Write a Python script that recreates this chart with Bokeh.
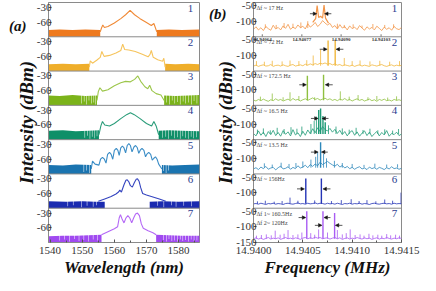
import numpy as np
from bokeh.plotting import figure
from bokeh.layouts import row
from bokeh.models import Range1d, FixedTicker, Span, Arrow, NormalHead, ColumnDataSource, Div, PrintfTickFormatter
from bokeh.core.properties import value
from bokeh.embed import file_html
from bokeh.resources import INLINE

SERIF = "Liberation Serif"

# ---------------- (a) optical spectra ----------------
WL_LO, WL_HI = 1539.5, 1586.5
DBA_LO, DBA_HI = -90, -20
WL_TICKS = [1540, 1550, 1560, 1570, 1580]
A_TICK_VALS = [-30, -60]

FLOOR_L_X = [[1539.5, 1543, 1547, 1551, 1555.6], [1539.5, 1544, 1548, 1552.2], [1539.5, 1543, 1547, 1551, 1554.6],
             [1539.5, 1544, 1548, 1552, 1555.2], [1539.5, 1544, 1548, 1552.8], [1539.5, 1545, 1550, 1554, 1557],
             [1539.5, 1544, 1548, 1552, 1556]]
FLOOR_L_Y = [[-76, -75, -76, -75, -76], [-76, -75, -76, -75], [-70, -71, -69, -71, -70],
             [-72, -71, -73, -72, -71], [-72, -73, -71, -72], [-76, -77, -76, -77, -77],
             [-77, -76, -76, -75, -74]]
FLOOR_R_X = [[1573.2, 1577, 1581, 1586.5], [1575.8, 1579, 1583, 1586.5], [1575.5, 1579, 1583, 1586.5],
             [1573.8, 1577, 1581, 1586.5], [1574.8, 1578, 1582, 1586.5], [1571, 1575, 1580, 1586.5],
             [1573, 1577, 1581, 1586.5]]
FLOOR_R_Y = [[-76, -75, -76, -75], [-75, -76, -75, -76], [-70, -71, -70, -69],
             [-72, -71, -72, -73], [-72, -73, -72, -71], [-77, -76, -77, -76],
             [-74, -75, -76, -76]]
CURVE_X = [
    [1555.6, 1556.0, 1556.4, 1556.9, 1558.0, 1560.0, 1562.0, 1563.5, 1564.9, 1566.3, 1568.0, 1570.0, 1571.5, 1572.3, 1572.8, 1573.2],
    [1552.2, 1552.5, 1553.2, 1554.5, 1555.6, 1556.1, 1556.8, 1558.5, 1560.5, 1562.0, 1562.6, 1563.2, 1564.5, 1566.5, 1568.5, 1570.5, 1571.1, 1571.5, 1572.1, 1573.5, 1575.0, 1575.4, 1575.8],
    [1554.6, 1555.0, 1555.5, 1556.3, 1558.0, 1560.0, 1562.0, 1563.5, 1565.0, 1566.3, 1567.3, 1568.2, 1569.5, 1570.4, 1571.0, 1571.7, 1573.0, 1574.5, 1575.5],
    [1555.2, 1555.8, 1556.3, 1557.0, 1558.5, 1560.0, 1562.0, 1563.8, 1565.0, 1566.2, 1568.0, 1570.0, 1571.6, 1572.3, 1573.0, 1573.8],
    [1552.8, 1553.2, 1554.0, 1555.2, 1555.7, 1556.3, 1556.9, 1557.4, 1557.9, 1558.5, 1559.0, 1559.5, 1560.0, 1560.6, 1561.1, 1561.5,
     1562.0, 1562.5, 1563.0, 1563.5, 1564.0, 1564.5, 1565.0, 1565.5, 1566.1, 1566.6, 1567.1, 1567.6, 1568.1, 1568.6, 1569.2, 1569.7,
     1570.2, 1570.7, 1571.3, 1571.8, 1572.3, 1572.8, 1573.3, 1573.8, 1574.8],
    [1555.0, 1557.0, 1559.0, 1560.5, 1561.3, 1561.7, 1562.2, 1563.0, 1563.6, 1564.0, 1564.5, 1565.0, 1565.6, 1566.2, 1566.8, 1567.2, 1567.7, 1568.2, 1568.8, 1570.0, 1572.0, 1574.0, 1576.0],
    [1556.0, 1558.0, 1560.0, 1561.0, 1561.5, 1561.9, 1562.4, 1563.0, 1563.6, 1564.2, 1564.8, 1565.4, 1566.0, 1566.6, 1567.2, 1567.8, 1568.4, 1569.0, 1570.5, 1572.0, 1573.0],
]
CURVE_Y = [
    [-80, -72, -66, -71, -69, -62, -53, -45, -36, -45, -53, -61, -67, -63, -72, -80],
    [-82, -69, -74, -68, -62, -50, -60, -58, -53, -48, -35, -46, -47, -50, -55, -61, -56, -48, -62, -67, -70, -64, -82],
    [-80, -62, -54, -61, -58, -50, -44, -41, -42, -37, -30, -41, -52, -56, -49, -60, -66, -69, -80],
    [-80, -62, -53, -60, -62, -57, -47, -39, -35, -39, -47, -57, -62, -53, -62, -80],
    [-80, -64, -70, -72, -60, -56, -60, -68, -50, -46, -50, -60, -42, -38, -42, -52,
     -37, -33, -37, -47, -32, -28, -32, -45, -35, -32, -36, -48, -41, -38, -42, -55,
     -49, -46, -50, -62, -58, -55, -60, -70, -80],
    [-76, -71, -66, -61, -57, -53, -57, -42, -33, -32, -36, -44, -47, -38, -31, -30, -35, -48, -60, -63, -67, -71, -76],
    [-74, -68, -62, -58, -40, -33, -42, -50, -40, -35, -40, -50, -40, -32, -30, -35, -52, -61, -66, -70, -74],
]
DROP_X = [[], [],
          [1549.8, 1550.6, 1551.3, 1552.1, 1552.9, 1553.6, 1554.2, 1576.3, 1577.1, 1578.0, 1578.8, 1579.7, 1580.5, 1581.4, 1582.2, 1583.1, 1584.0, 1584.8, 1585.7],
          [1550.8, 1551.6, 1552.4, 1553.1, 1553.9, 1554.6, 1575.0, 1576.0, 1576.9, 1577.8, 1578.7, 1579.6, 1580.5, 1581.3, 1582.2, 1583.0, 1583.9, 1584.7, 1585.6],
          [1550.5, 1551.4, 1552.2, 1553.6, 1554.3, 1555.0, 1575.3, 1576.1, 1576.9],
          [1545.5, 1547.2, 1549.8, 1551.5, 1553.4, 1554.5, 1573.5, 1575.4, 1577.8, 1579.2, 1581.6, 1584.0],
          [1543.0, 1544.5, 1546.0, 1547.6, 1549.0, 1550.5, 1552.0, 1553.4, 1554.8, 1575.3, 1576.2, 1577.0, 1577.9, 1578.7, 1579.6, 1580.5, 1581.3, 1582.2, 1583.1, 1583.9, 1584.8, 1585.7]]
DROP_Y = [[], [],
          [-86, -82, -88, -80, -86, -84, -88, -84, -88, -80, -86, -83, -88, -82, -86, -84, -88, -81, -86],
          [-86, -82, -88, -84, -87, -83, -86, -84, -88, -82, -87, -85, -88, -83, -86, -88, -84, -87, -85],
          [-86, -83, -88, -85, -88, -84, -84, -88, -83],
          [-86, -84, -88, -85, -87, -84, -85, -88, -84, -87, -85, -86],
          [-86, -84, -88, -83, -87, -85, -88, -84, -86, -85, -88, -83, -87, -86, -88, -84, -87, -85, -88, -84, -87, -86]]

A_BAND = ["#ee7a1f", "#efae2a", "#7bb31a", "#0f8f68", "#1a74b0", "#1b2bb0", "#a04af0"]
A_LINE = ["#f08a36", "#f6c45c", "#9cc64a", "#2b9d7a", "#3b8dc6", "#3444bf", "#b468f6"]

# ---------------- (b) RF spectra ----------------
F_LO, F_HI = 14.9400, 14.9415
DBB_LO, DBB_HI = -150, -40
F_TICKS = [14.9400, 14.9405, 14.9410, 14.9415]

NOISE = [
    [-126, -118, -128, -121, -130, -117, -124, -129, -113, -125, -120, -128, -115, -123, -110, -126, -119, -124, -112, -121,
     -116, -125, -108, -119, -113, -104, -117, -110, -98, -106, -112, -107, -120, -114, -125, -111, -122, -117, -128, -115,
     -124, -119, -127, -114, -122, -129, -118, -125, -120, -128, -116, -123, -130, -119, -126, -121, -129, -117, -124, -127, -120],
    [-134, -131, -135, -132, -130, -134, -133, -129, -135, -132, -131, -134, -130, -133, -135, -131, -129, -134, -132, -130,
     -133, -128, -131, -127, -130, -126, -129, -125, -127, -124, -128, -126, -130, -127, -131, -129, -133, -130, -132, -134,
     -131, -135, -132, -130, -134, -131, -133, -135, -130, -132, -134, -131, -129, -133, -135, -132, -130, -134, -131, -133, -132],
    [-133, -136, -131, -135, -130, -134, -137, -132, -135, -129, -134, -131, -136, -133, -130, -135, -128, -133, -131, -136,
     -132, -129, -134, -130, -126, -131, -128, -133, -130, -127, -132, -129, -134, -131, -135, -130, -133, -128, -134, -131,
     -136, -132, -129, -134, -131, -136, -133, -130, -135, -132, -137, -131, -134, -130, -135, -133, -136, -131, -134, -132, -135],
    [-130, -138, -122, -136, -126, -140, -124, -134, -120, -137, -127, -139, -121, -133, -125, -138, -118, -135, -128, -140,
     -123, -136, -119, -131, -115, -128, -112, -124, -108, -118, -122, -114, -126, -117, -130, -120, -134, -124, -138, -127,
     -121, -136, -125, -139, -129, -122, -137, -126, -140, -131, -124, -138, -127, -135, -121, -139, -130, -134, -126, -137, -132],
    [-134, -130, -136, -128, -133, -126, -135, -131, -129, -137, -130, -125, -134, -132, -127, -135, -129, -133, -124, -131,
     -128, -122, -130, -120, -126, -118, -124, -112, -120, -115, -110, -116, -121, -125, -119, -128, -123, -131, -126, -133,
     -129, -135, -130, -127, -134, -131, -136, -128, -133, -130, -135, -129, -132, -136, -130, -134, -127, -133, -131, -135, -132],
    [-136, -135, -137, -134, -136, -138, -135, -136, -134, -137, -135, -136, -138, -135, -134, -136, -137, -135, -133, -136,
     -135, -137, -134, -136, -135, -133, -136, -134, -135, -137, -134, -136, -135, -137, -134, -136, -138, -135, -136, -134,
     -137, -135, -136, -134, -137, -135, -136, -138, -135, -134, -136, -137, -135, -134, -136, -135, -137, -134, -136, -135, -136],
    [-138, -135, -139, -136, -140, -137, -134, -139, -136, -138, -135, -140, -137, -134, -138, -136, -139, -135, -137, -140,
     -136, -134, -138, -135, -137, -133, -136, -134, -138, -136, -135, -139, -136, -134, -138, -135, -140, -137, -135, -139,
     -136, -138, -134, -137, -139, -135, -138, -136, -140, -137, -135, -139, -136, -138, -134, -137, -139, -136, -138, -135, -137],
]
SPIKE_BASE = [-122, -133, -134, -132, -130, -136, -138]
SPIKE_X = [
    [14.94012, 14.94023, 14.94031, 14.94040, 14.94048, 14.94055, 14.94085, 14.94092, 14.94101, 14.94110, 14.94121, 14.94133, 14.94142],
    [14.94003, 14.94011, 14.94019, 14.94029, 14.94037, 14.94046, 14.94054, 14.940605, 14.94068, 14.94092, 14.94100, 14.94108, 14.94118, 14.94128, 14.94138, 14.94148],
    [14.94007, 14.94019, 14.94030, 14.94037, 14.94046, 14.94062, 14.94088, 14.94097, 14.94106, 14.94116, 14.94125, 14.94136, 14.94145],
    [14.94004, 14.94010, 14.94017, 14.94024, 14.94031, 14.94038, 14.94044, 14.94049, 14.940582, 14.940615, 14.940638, 14.94076, 14.940836,
     14.94090, 14.94097, 14.94104, 14.94111, 14.94118, 14.94126, 14.94133, 14.94141, 14.94147],
    [14.94011, 14.94019, 14.94028, 14.94036, 14.94043, 14.94050, 14.940582, 14.94063, 14.94065, 14.94071, 14.94074, 14.94082, 14.94090,
     14.94100, 14.94112, 14.94123, 14.94135, 14.94146],
    [14.94004, 14.94012, 14.94021, 14.94029, 14.94037, 14.94045, 14.94062, 14.94079, 14.94089, 14.94099, 14.94107, 14.94115, 14.94124,
     14.94133, 14.94141, 14.941495],
    [14.94003, 14.94008, 14.94013, 14.94018, 14.94022, 14.94027, 14.94031, 14.94035, 14.94040, 14.94045, 14.94049, 14.94058, 14.94062,
     14.94066, 14.94075, 14.94085, 14.94090, 14.94094, 14.94098, 14.94103, 14.94108, 14.94112, 14.94117, 14.94121, 14.94126, 14.94130,
     14.94135, 14.94139, 14.94144, 14.94148],
]
SPIKE_TOP = [
    [-110, -112, -106, -108, -104, -100, -108, -112, -110, -114, -109, -112, -110],
    [-118, -120, -117, -119, -116, -118, -115, -100, -82, -108, -118, -116, -119, -117, -120, -118],
    [-122, -112, -124, -108, -120, -124, -105, -122, -117, -124, -120, -125, -121],
    [-118, -114, -120, -112, -116, -110, -115, -108, -100, -90, -76, -104, -108, -114, -118, -112, -119, -115, -120, -117, -121, -116],
    [-116, -120, -114, -118, -115, -110, -104, -95, -80, -86, -100, -108, -115, -118, -121, -117, -120, -119],
    [-128, -126, -129, -127, -116, -126, -125, -127, -124, -121, -127, -124, -128, -122, -126, -100],
    [-128, -126, -124, -127, -112, -125, -122, -110, -126, -124, -118, -120, -125, -108, -118, -110, -124, -120, -108, -126,
     -124, -128, -122, -127, -125, -128, -123, -127, -125, -128],
]
PEAK_X = [[14.94060, 14.94063, 14.940645, 14.94066, 14.94068, 14.94070, 14.940715, 14.94073, 14.94076],
          [14.940756, 14.940828], [14.940546, 14.94071], [14.940661, 14.94068, 14.940704, 14.940727],
          [14.94068], [14.94053, 14.940688], [14.94054, 14.940704, 14.940822]]
PEAK_TOP = [[-104, -92, -50, -88, -84, -90, -48, -90, -106],
            [-52, -50], [-55, -52], [-55, -50, -74, -94], [-48], [-55, -55], [-50, -50, -55]]
ARR_START = [[14.940572, 14.940789], [14.940671, 14.940911], [14.940464, 14.940803], [14.940582, 14.94076],
             [14.940582, 14.940753], [14.940441, 14.94078], [14.940457, 14.94078, 14.940622, 14.940901]]
ARR_END = [[14.940641, 14.94072], [14.940747, 14.940836], [14.940536, 14.940727], [14.940655, 14.940694],
           [14.940655, 14.940688], [14.940516, 14.940704], [14.94053, 14.940714, 14.940694, 14.940829]]
ARR_DB = [[-76, -76], [-80, -80], [-84, -84], [-82, -82], [-80, -80], [-88, -88], [-70, -70, -95, -95]]
DF_TEXT = [["Δf ~ 17 Hz"], ["Δf ~ 72 Hz"], ["Δf ~ 172.5 Hz"], ["Δf ~ 16.5 Hz"], ["Δf ~ 13.5 Hz"], ["Δf ~ 156Hz"],
           ["Δf 1~ 160.5Hz", "Δf 2~ 120Hz"]]
DF_DB = [[-57], [-57], [-57], [-57], [-57], [-57], [-60, -86]]
ZOOM_TICK_X = [14.940089, 14.940490, 14.940888, 14.941293]
ZOOM_TICK_LABELS = ["14.94064", "14.94077", "14.94090", "14.94103"]
B_LINE = ["#f39548", "#f1b83e", "#8fc040", "#1e9a76", "#2c87ba", "#2434b6", "#a95cf3"]

PANEL_NUM = ["1", "2", "3", "4", "5", "6", "7"]
NUM_COLOR = "#2b3d8f"
NP = 7
FIG_H = 283


def setup(p, span, ticks, labels, xlabel):
    p.xgrid.visible = False
    p.ygrid.visible = False
    p.outline_line_color = "#8a8a8a"
    p.background_fill_color = "white"
    p.border_fill_color = "white"
    for ax in (p.xaxis[0], p.yaxis[0]):
        ax.axis_line_color = "#8a8a8a"
        ax.major_tick_line_color = "#555555"
        ax.minor_tick_line_color = "#555555"
        ax.major_tick_in = 3
        ax.major_tick_out = 0
        ax.minor_tick_in = 2
        ax.minor_tick_out = 0
        ax.major_label_text_font = SERIF
        ax.major_label_text_font_size = "11px"
        ax.major_label_text_color = "#333333"
        ax.axis_label_text_font = SERIF
        ax.axis_label_text_font_style = "bold italic"
        ax.axis_label_text_color = "#111111"
    p.yaxis[0].ticker = FixedTicker(ticks=ticks)
    p.yaxis[0].major_label_overrides = labels
    p.yaxis[0].major_label_standoff = -3
    p.yaxis[0].axis_label = "Intensity (dBm)"
    p.yaxis[0].axis_label_text_font_size = "19px"
    p.yaxis[0].axis_label_standoff = -3
    p.xaxis[0].major_label_standoff = 4
    p.xaxis[0].axis_label = xlabel
    p.xaxis[0].axis_label_text_font_size = "17px"
    p.xaxis[0].axis_label_standoff = 1
    for j in range(1, NP):
        p.add_layout(Span(location=j * span, dimension="width", line_color="#8a8a8a", line_width=1))


# ---------- figure (a) ----------
span_a = DBA_HI - DBA_LO
ranges_a = {}
for k in range(NP):
    st = DBA_LO - (NP - 1 - k) * span_a
    ranges_a[f"a{k}"] = Range1d(st, st + NP * span_a)
ticks_a, labels_a = [], {}
for k in range(NP):
    for v in A_TICK_VALS:
        t = (NP - 1 - k) * span_a + (v - DBA_LO)
        ticks_a.append(t)
        labels_a[t] = str(v)

pa = figure(width=190, height=FIG_H, x_range=Range1d(WL_LO, WL_HI), y_range=Range1d(0, NP * span_a),
            output_backend="svg", toolbar_location=None, margin=(0, 0, 0, 12),
            min_border_left=34, min_border_right=3, min_border_top=2, min_border_bottom=41)
pa.extra_y_ranges = ranges_a
setup(pa, span_a, ticks_a, labels_a, "Wavelength (nm)")
pa.xaxis[0].ticker = FixedTicker(ticks=WL_TICKS, minor_ticks=[1545, 1555, 1565, 1575, 1585])

for k in range(NP):
    rn = f"a{k}"
    pa.varea(x=FLOOR_L_X[k], y1=[DBA_LO] * len(FLOOR_L_X[k]), y2=FLOOR_L_Y[k], fill_color=A_BAND[k], y_range_name=rn)
    pa.varea(x=FLOOR_R_X[k], y1=[DBA_LO] * len(FLOOR_R_X[k]), y2=FLOOR_R_Y[k], fill_color=A_BAND[k], y_range_name=rn)
    if DROP_X[k]:
        pa.vbar(x=DROP_X[k], width=0.18, top=[-65] * len(DROP_X[k]), bottom=DROP_Y[k], fill_color="white",
                fill_alpha=0.85, line_color=None, y_range_name=rn)
    pa.line(CURVE_X[k], CURVE_Y[k], line_color=A_LINE[k], line_width=1.1, y_range_name=rn)
    pa.text(x=[WL_HI], y=[DBA_HI], text=[PANEL_NUM[k]], x_offset=-9, y_offset=2, text_align="center",
            text_baseline="top", text_font=value(SERIF), text_font_size="11px", text_color=NUM_COLOR, y_range_name=rn)

# ---------- figure (b) ----------
span_b = DBB_HI - DBB_LO
ranges_b = {}
for k in range(NP):
    st = DBB_LO - (NP - 1 - k) * span_b
    ranges_b[f"b{k}"] = Range1d(st, st + NP * span_b)
ticks_b, labels_b = [], {}
for k in range(NP):
    vals = [-50, -100] + ([-150] if k == NP - 1 else [])
    for v in vals:
        t = (NP - 1 - k) * span_b + (v - DBB_LO)
        ticks_b.append(t)
        labels_b[t] = str(v)

pb = figure(width=208, height=FIG_H, x_range=Range1d(F_LO, F_HI), y_range=Range1d(0, NP * span_b),
            output_backend="svg", toolbar_location=None, margin=(0, 0, 0, 10),
            min_border_left=37, min_border_right=19, min_border_top=2, min_border_bottom=41)
pb.extra_y_ranges = ranges_b
setup(pb, span_b, ticks_b, labels_b, "Frequency (MHz)")
pb.xaxis[0].ticker = FixedTicker(ticks=F_TICKS, minor_ticks=[14.94025, 14.94075, 14.94125])
pb.xaxis[0].formatter = PrintfTickFormatter(format="%.4f")

freq_grid = np.linspace(F_LO, F_HI, len(NOISE[0]))
for k in range(NP):
    rn = f"b{k}"
    pb.line(freq_grid, NOISE[k], line_color=B_LINE[k], line_width=0.8, y_range_name=rn)
    n = len(SPIKE_X[k])
    pb.segment(x0=SPIKE_X[k], y0=[SPIKE_BASE[k]] * n, x1=SPIKE_X[k], y1=SPIKE_TOP[k],
               line_color=B_LINE[k], line_width=0.8, y_range_name=rn)
    if k == 0:
        pb.line(PEAK_X[k], PEAK_TOP[k], line_color=B_LINE[k], line_width=1.2, y_range_name=rn)
    else:
        m = len(PEAK_X[k])
        pb.segment(x0=PEAK_X[k], y0=[SPIKE_BASE[k]] * m, x1=PEAK_X[k], y1=PEAK_TOP[k],
                   line_color=B_LINE[k], line_width=1.4, y_range_name=rn)
    src = ColumnDataSource(dict(x0=ARR_START[k], x1=ARR_END[k], y=ARR_DB[k]))
    pb.add_layout(Arrow(end=NormalHead(size=3.5, fill_color="#111111", line_color="#111111", line_width=0.5),
                        source=src, x_start="x0", y_start="y", x_end="x1", y_end="y",
                        line_color="#111111", line_width=0.7, y_range_name=rn))
    pb.text(x=[F_LO] * len(DF_TEXT[k]), y=DF_DB[k], text=DF_TEXT[k], x_offset=3, text_baseline="middle",
            text_font=value(SERIF), text_font_size="6px", text_color="#444444", y_range_name=rn)
    pb.text(x=[F_HI], y=[DBB_HI], text=[PANEL_NUM[k]], x_offset=-7, y_offset=2, text_align="center",
            text_baseline="top", text_font=value(SERIF), text_font_size="11px", text_color=NUM_COLOR, y_range_name=rn)

pb.segment(x0=ZOOM_TICK_X, y0=[DBB_LO] * 4, x1=ZOOM_TICK_X, y1=[DBB_LO + 8] * 4, line_color="#555555",
           line_width=0.8, y_range_name="b0")
pb.text(x=ZOOM_TICK_X, y=[DBB_LO] * 4, text=ZOOM_TICK_LABELS, y_offset=1, text_align="center", text_baseline="top",
        text_font=value(SERIF), text_font_size="5px", text_font_style="bold", text_color="#333333", y_range_name="b0")

# panel tags (a) and (b), overlaid on the layout
tag_style = {"font-family": SERIF, "font-size": "15px", "font-weight": "bold", "font-style": "italic",
             "color": "#111111", "position": "absolute", "z-index": "10", "white-space": "nowrap"}
tag_a = Div(text="(a)", width=24, height=18, styles=dict(tag_style, left="4px", top="11px"))
tag_b = Div(text="(b)", width=24, height=18, styles=dict(tag_style, left="204px", top="-1px"))

layout = row(pa, pb, tag_a, tag_b)
open("out.html", "w").write(file_html(layout, INLINE))
